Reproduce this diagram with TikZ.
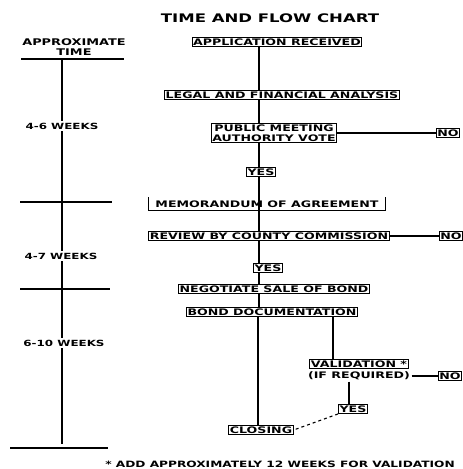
\documentclass[tikz,border=0pt]{standalone}
\usepackage{fontspec}
\setmainfont{DejaVu Sans}[FakeStretch=1.4, BoldFeatures={FakeStretch=1.4}]

\begin{document}
\begin{tikzpicture}[x=1pt,y=-1pt,
    lbl/.style={font=\bfseries\fontsize{9}{10}\selectfont, inner sep=1pt},
    stepbox/.style={lbl, draw, line width=1.1pt},
    wk/.style={lbl, fill=white, inner sep=2pt, font=\bfseries\fontsize{8.5}{9}\selectfont},
    every path/.style={line width=1.1pt}]

        \def\spine{259}

        \useasboundingbox (0,0) rectangle (463,469);

        % heading
        \node[lbl, font=\bfseries\fontsize{11.8}{14}\selectfont] (title) at (270,18) {TIME AND FLOW CHART};

        % time column
        \node[lbl, align=center, font=\bfseries\fontsize{9.2}{9.5}\selectfont] (apx) at (74,47) {APPROXIMATE\\TIME};
        \draw (21,59) -- (124,59);
        \coordinate (ttop) at (62,59);
        \coordinate (tbot) at (62,444);
        \draw (ttop) -- (tbot);
        \draw (20,202) -- (112,202);
        \draw (20,289) -- (110,289);
        \draw (10,448) -- (108,448);
        \node[wk] (w1) at (62,126) {4-6 WEEKS};
        \node[wk] (w2) at (61,256) {4-7 WEEKS};
        \node[wk] (w3) at (64,343) {6-10 WEEKS};

        % flow column
        \node[stepbox] (app) at (277,42) {APPLICATION RECEIVED};
        \node[stepbox] (legal) at (282,95) {LEGAL AND FINANCIAL ANALYSIS};
        \node[stepbox, align=center] (pub) at (274,133) {PUBLIC MEETING\\AUTHORITY VOTE};
        \node[stepbox] (no1) at (448,133) {NO};
        \node[stepbox] (yes1) at (261,172) {YES};
        \node[lbl, minimum width=236pt, minimum height=12pt] (memo) at (267,204) {MEMORANDUM OF AGREEMENT};
        \node[stepbox] (review) at (269,236) {REVIEW BY COUNTY COMMISSION};
        \node[stepbox] (no2) at (451,236) {NO};
        \node[stepbox] (yes2) at (268,268) {YES};
        \node[stepbox] (neg) at (274,289) {NEGOTIATE SALE OF BOND};
        \node[stepbox] (bond) at (272,312) {BOND DOCUMENTATION};
        \node[stepbox] (val) at (359,364) {VALIDATION *};
        \node[lbl] (ifreq) at (359,376) {(IF REQUIRED)};
        \node[stepbox] (no3) at (450,376) {NO};
        \node[stepbox] (yes3) at (353,409) {YES};
        \node[stepbox] (close) at (261,430) {CLOSING};

        \node[lbl, font=\bfseries\fontsize{8.7}{9}\selectfont] (note) at (280,464) {* ADD APPROXIMATELY 12 WEEKS FOR VALIDATION};

        % open top on the memorandum
        \draw (memo.north west) -- (memo.south west) -- (memo.south east) -- (memo.north east);

        % connectors
        \draw (app.south -| \spine,0) -- (legal.north -| \spine,0);
        \draw (legal.south -| \spine,0) -- (pub.north -| \spine,0);
        \draw (pub.south -| \spine,0) -- (yes1.north -| \spine,0);
        \draw (yes1.south -| \spine,0) -- (memo.south -| \spine,0);
        \draw (memo.south -| \spine,0) -- (review.north -| \spine,0);
        \draw (review.south -| \spine,0) -- (yes2.north -| \spine,0);
        \draw (yes2.south -| \spine,0) -- (neg.north -| \spine,0);
        \draw (neg.south -| \spine,0) -- (bond.north -| \spine,0);
        \draw (bond.south -| 258,0) -- (close.north -| 258,0);
        \draw (bond.south -| 333,0) -- (val.north -| 333,0);
        \draw (ifreq.south -| 349,0) -- (yes3.north -| 349,0);
        \draw (pub.east) -- (no1.west);
        \draw (review.east) -- (no2.west);
        \draw (ifreq.east) -- (no3.west);
        \draw[dashed] (yes3.south west) -- (close.east);

\end{tikzpicture}
\end{document}
